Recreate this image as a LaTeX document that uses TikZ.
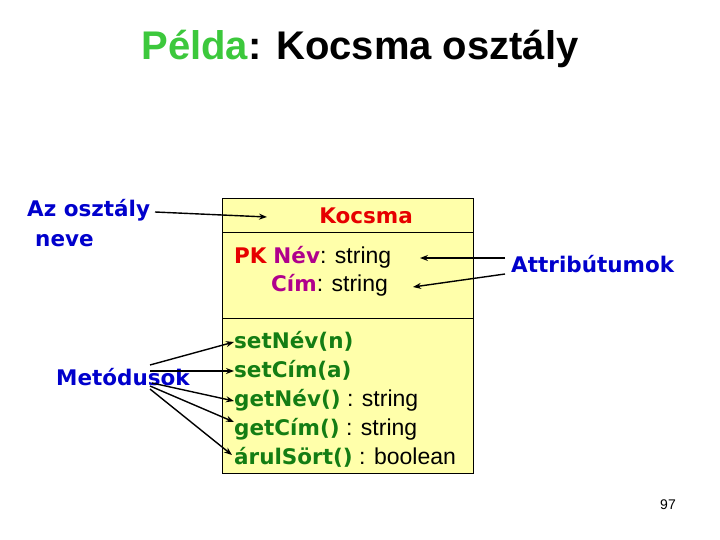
\documentclass[tikz,border=0pt]{standalone}
\usepackage{fontspec}
\setmainfont{DejaVu Sans}
\newfontfamily\titlefont{Liberation Sans}
\newfontfamily\typefont{Liberation Sans}
\usetikzlibrary{arrows.meta}

\definecolor{labelblue}{RGB}{0,0,204}
\definecolor{namered}{RGB}{230,0,0}
\definecolor{attrpurple}{RGB}{176,0,140}
\definecolor{methodgreen}{RGB}{20,125,20}
\definecolor{titlegreen}{RGB}{60,200,60}
\definecolor{boxyellow}{RGB}{255,255,170}

\newcommand{\typetext}[1]{{\typefont\fontsize{23}{27}\selectfont #1}}

\begin{document}
\begin{tikzpicture}[x=1pt, y=-1pt,
    sidelabel/.style={font=\fontsize{21.5}{25}\selectfont\bfseries, text=labelblue, inner sep=0pt},
    boxtext/.style={font=\fontsize{21.5}{25}\selectfont, anchor=base west, inner sep=0pt},
    pointer/.style={-{Stealth[length=8pt, width=6pt]}, line width=1.4pt}]
    \useasboundingbox (0,0) rectangle (720,540);

    % Define the box edges and the row lines
    \def\boxl{222}  % left edge
    \def\boxr{473}  % right edge
    \def\boxt{198}  % top edge
    \def\boxb{473}  % bottom edge
    \def\headline{232}  % under the class name
    \def\attrline{318}  % under the attributes

    % Title
    \node[anchor=base, inner sep=0pt, font=\titlefont\fontsize{40}{46}\selectfont\bfseries] (title) at (360,60)
        {\textcolor{titlegreen}{Példa}: Kocsma osztály};

    % Draw the class box
    \filldraw[fill=boxyellow, draw=black] (\boxl,\boxt) rectangle (\boxr,\boxb);
    \draw (\boxl,\headline) -- (\boxr,\headline);
    \draw (\boxl,\attrline) -- (\boxr,\attrline);

    % Class name and attributes
    \node[anchor=base, inner sep=0pt, font=\fontsize{21.5}{25}\selectfont\bfseries, text=namered] (classname) at (366,223) {Kocsma};
    \node[boxtext] (attrnev) at (234,263) {\textcolor{namered}{\bfseries PK} \textcolor{attrpurple}{\bfseries Név}\typetext{: string}};
    \node[boxtext] (attrcim) at (271,291) {\textcolor{attrpurple}{\bfseries Cím}\typetext{: string}};

    % Methods
    \node[boxtext, text=methodgreen] (setnev) at (234,348) {\bfseries setNév(n)};
    \node[boxtext, text=methodgreen] (setcim) at (234,377) {\bfseries setCím(a)};
    \node[boxtext] (getnev) at (234,406) {\textcolor{methodgreen}{\bfseries getNév()}\typetext{ : string}};
    \node[boxtext] (getcim) at (234,435) {\textcolor{methodgreen}{\bfseries getCím()}\typetext{ : string}};
    \node[boxtext] (arulsort) at (234,464) {\textcolor{methodgreen}{\bfseries árulSört()}\typetext{ : boolean}};

    % Side labels
    \node[sidelabel, anchor=base west] (azosztaly) at (27,217) {Az osztály};
    \node[sidelabel, anchor=base west] (neve) at (35,246) {neve};
    \node[sidelabel, anchor=base west] (metodusok) at (56,385) {Metódusok};
    \node[sidelabel, anchor=base west] (attributumok) at (511,272) {Attribútumok};
    \node[anchor=base, inner sep=0pt, font=\titlefont\fontsize{14}{16}\selectfont] (pagenum) at (668,509) {97};

    % Arrow end points
    \coordinate (nevstart) at (155,212);
    \coordinate (nevtip) at (267,217);
    \coordinate (attrstartA) at (505,258);
    \coordinate (attrtipA) at (420,258);
    \coordinate (attrstartB) at (505,274);
    \coordinate (attrtipB) at (413,287);
    \coordinate (metstartA) at (150,365);
    \coordinate (metstartB) at (150,371);
    \coordinate (metstartC) at (152,383);
    \coordinate (metstartD) at (150,386);
    \coordinate (metstartE) at (150,389);

    % Draw the pointers
    \draw[pointer] (nevstart) -- (nevtip);
    \draw[pointer] (attrstartA) -- (attrtipA);
    \draw[pointer] (attrstartB) -- (attrtipB);
    \draw[pointer] (metstartA) -- (setnev.west |- 0,342);
    \draw[pointer] (metstartB) -- (setcim.west |- 0,371);
    \draw[pointer] (metstartC) -- (getnev.west |- 0,401);
    \draw[pointer] (metstartD) -- (getcim.west |- 0,422);
    \draw[pointer] (metstartE) -- ([xshift=-2pt]arulsort.west |- 0,455);
\end{tikzpicture}
\end{document}
